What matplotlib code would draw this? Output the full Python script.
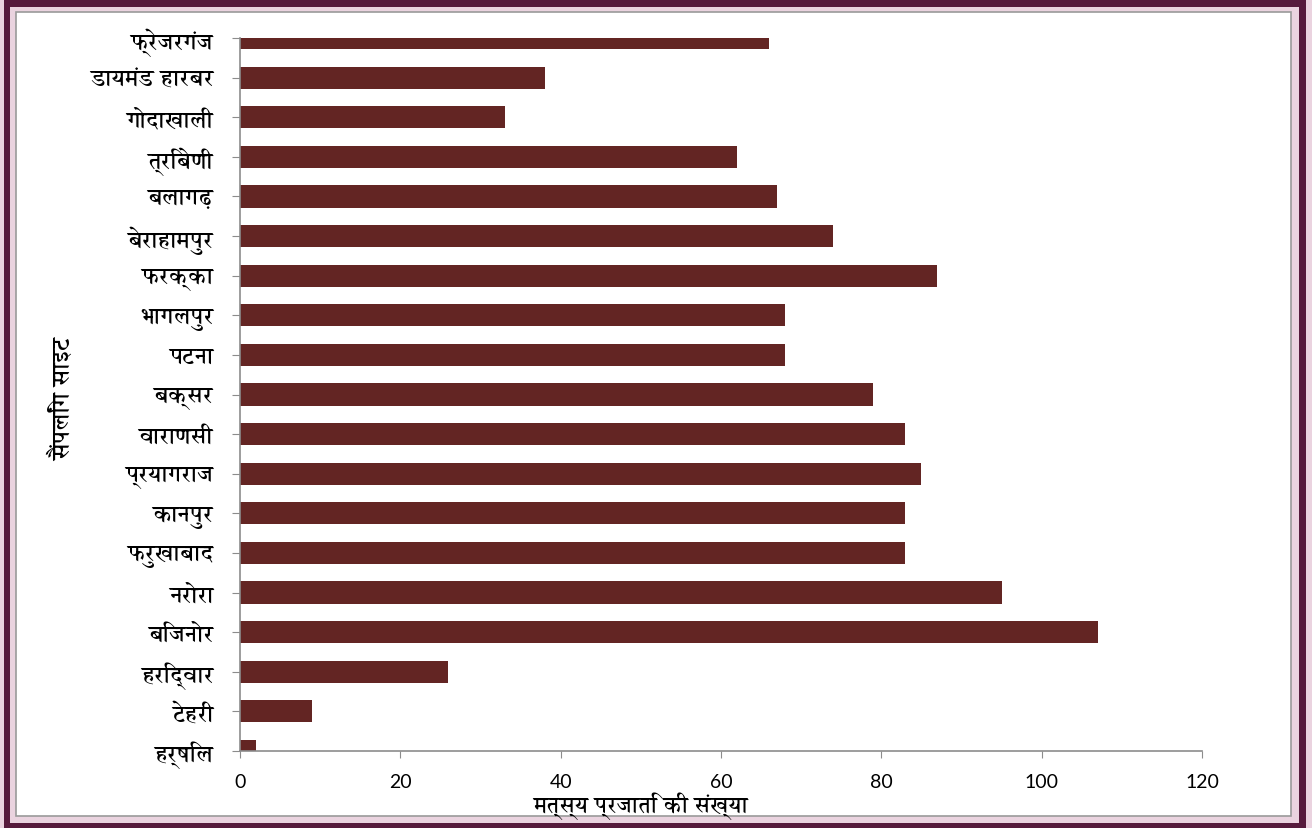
import matplotlib
matplotlib.use("Agg")
import matplotlib.pyplot as plt
from matplotlib import font_manager as fm
from matplotlib.patches import Rectangle

sites = ["फ्रेजरगंज", "डायमंड हारबर", "गोदाखाली", "त्रिबेणी", "बलागढ़",
         "बेराहामपुर", "फरक्का", "भागलपुर", "पटना", "बक्सर", "वाराणसी",
         "प्रयागराज", "कानपुर", "फरुखाबाद", "नरोरा", "बिजनोर", "हरिद्वार",
         "टेहरी", "हर्षिल"]
species = [66, 38, 33, 62, 67, 74, 87, 68, 68, 79, 83, 85, 83, 83, 95, 107, 26, 9, 2]
xticks = [0, 20, 40, 60, 80, 100, 120]
xlabel = "मत्स्य प्रजाति की संख्या"
ylabel = "सैंपलिंग साइट"

# pick a font with Devanagari coverage, preferring one that has a bold face
keys = ["devanagari", "mangal", "lohit", "kalimati", "gargi", "sarai",
        "nirmala", "hind", "mukta", "poppins", "kohinoor", "annapurna"]
cands = {}
for f in fm.fontManager.ttflist:
    n = f.name.lower()
    if any(k in n for k in keys):
        w = f.weight if isinstance(f.weight, int) else (700 if "bold" in str(f.weight) else 400)
        cands.setdefault(f.name, set()).add(w)
deva = None
for name, ws in sorted(cands.items()):
    if any(w >= 600 for w in ws):
        deva = name
        break
if deva is None and cands:
    deva = sorted(cands)[0]
families = ([deva] if deva else []) + ["DejaVu Sans"]
plt.rcParams["font.family"] = families

W, H = 1312, 829
fig = plt.figure(figsize=(W / 100, H / 100), dpi=100)
fig.patch.set_facecolor("#EAD3DF")

def prect(x0, y0, x1, y1, **kw):
    r = Rectangle((x0 / W, (H - y1) / H), (x1 - x0) / W, (y1 - y0) / H,
                  transform=fig.transFigure, **kw)
    fig.add_artist(r)

prect(4, 1, 1306, 832, facecolor="#561A3C", edgecolor="none", zorder=0)
prect(10, 8, 1299, 824, facecolor="#EAD3DF", edgecolor="none", zorder=0)
prect(16, 13, 1291, 817, facecolor="white", edgecolor="#9A9A9A", linewidth=1.2, zorder=0)

ax = fig.add_axes([240 / W, (H - 752) / H, (1202 - 240) / W, (752 - 39) / H])
ax.set_facecolor("none")
y = list(range(len(sites)))
ax.barh(y, species, height=0.56, color="#632523", zorder=2)
ax.set_ylim(len(sites) - 1, 0)
ax.set_xlim(0, 120)
ax.set_yticks(y)
ax.set_yticklabels(sites, fontsize=16.5, fontweight="bold")
ax.set_xticks(xticks)
ax.set_xticklabels([str(t) for t in xticks], fontsize=14, family=["Lato", "DejaVu Sans"])
for s in ["top", "right"]:
    ax.spines[s].set_visible(False)
for s in ["left", "bottom"]:
    ax.spines[s].set_color("#8C8C8C")
    ax.spines[s].set_linewidth(1.2)
ax.tick_params(axis="y", length=6, color="#8C8C8C", pad=13.5)
ax.tick_params(axis="x", length=5, color="#8C8C8C", pad=11)

fig.text(640 / W, (H - 806) / H, xlabel, ha="center", va="center",
         fontsize=16, fontweight="bold")
fig.text(62 / W, (H - 400) / H, ylabel, ha="center", va="center",
         fontsize=17, fontweight="bold", rotation=90)

fig.savefig("out.png", dpi=100, facecolor=fig.get_facecolor())
